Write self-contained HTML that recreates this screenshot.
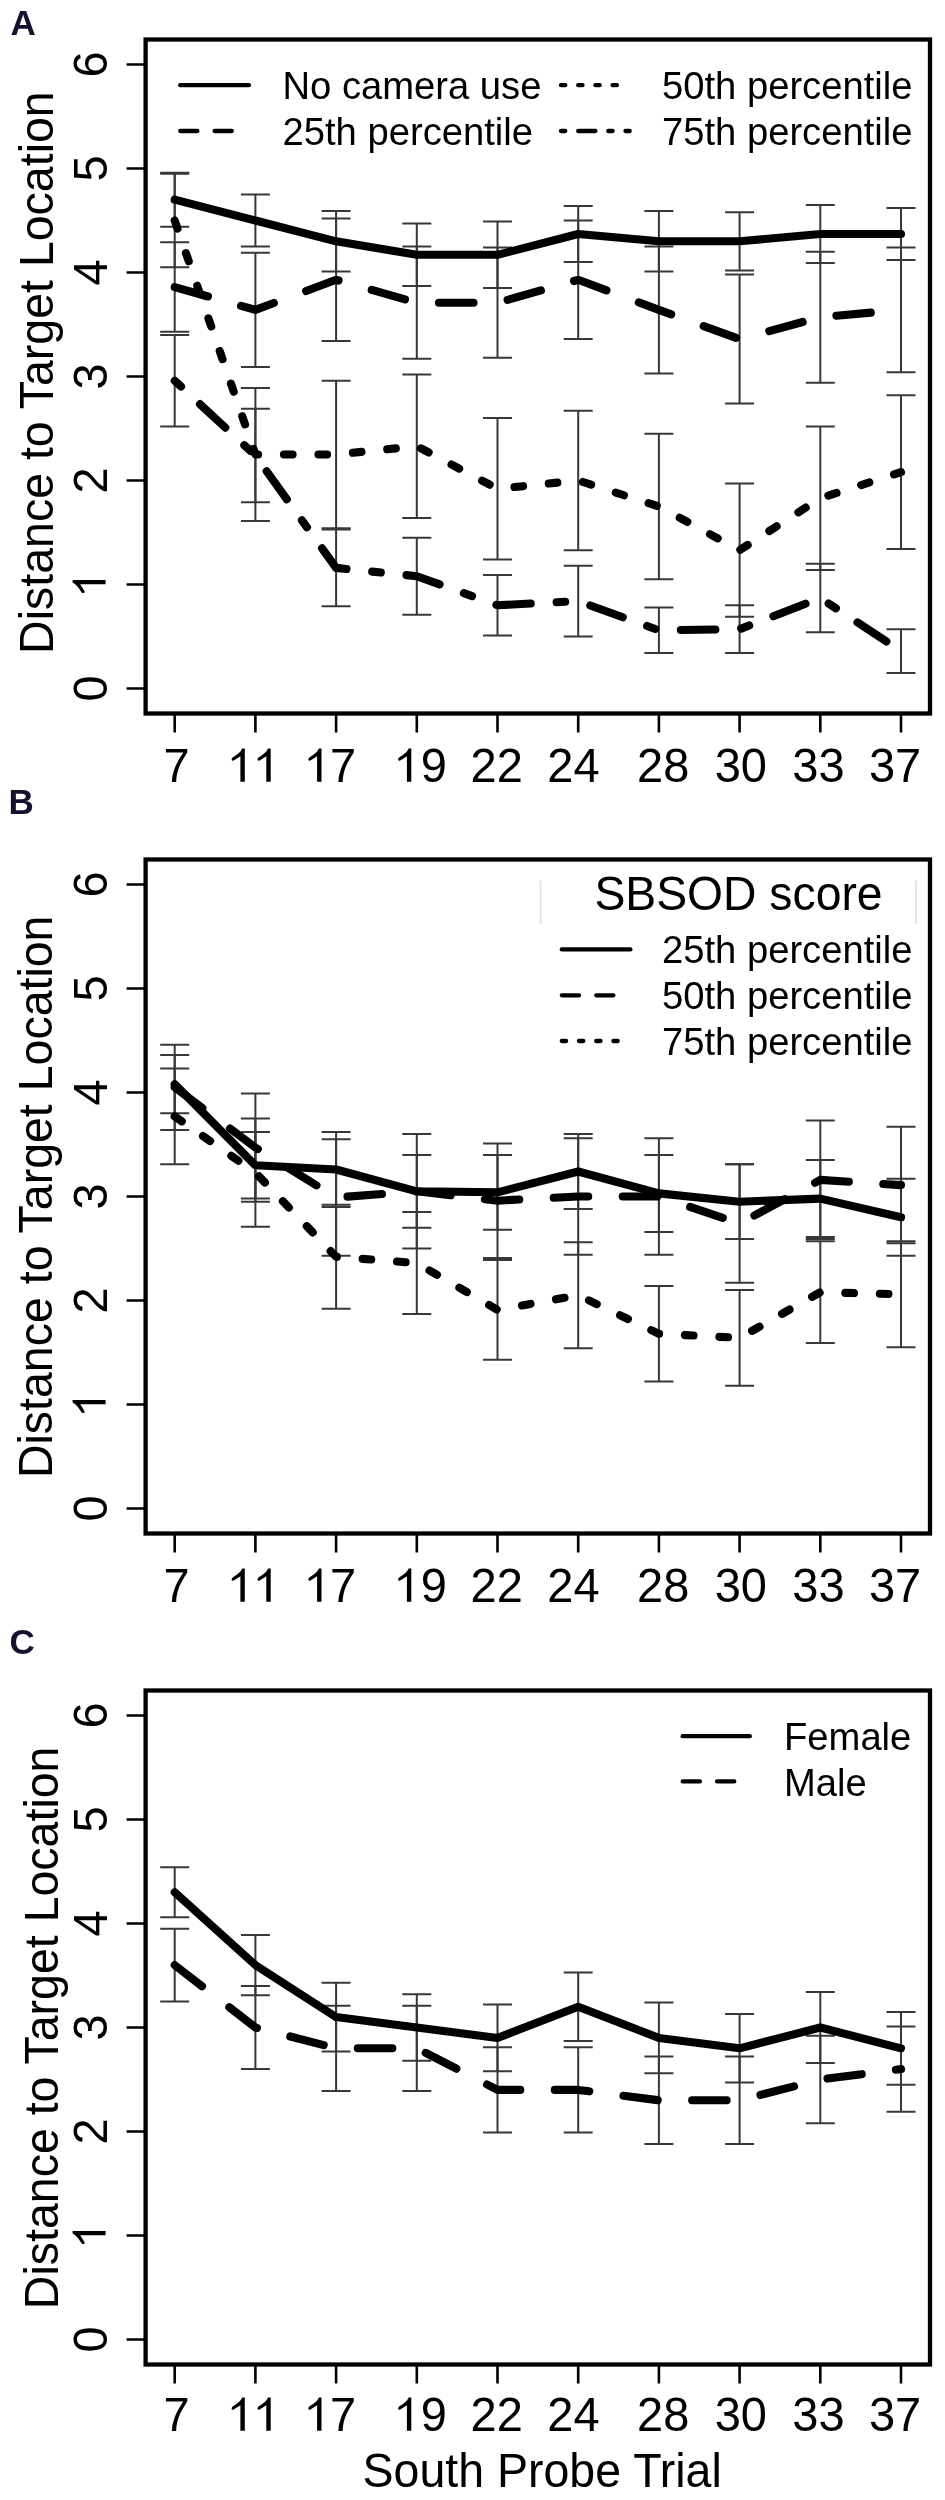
<!DOCTYPE html>
<html><head><meta charset="utf-8"><style>
html,body{margin:0;padding:0;background:#fff;}
svg{display:block;will-change:transform;}
text{font-family:"Liberation Sans",sans-serif;fill:#000;}
.ax{font-size:47px;}
.yt{font-size:46.5px;}
.lt{font-size:38.2px;}
.lb{font-size:35px;font-weight:bold;fill:#16122e;}
.eb{stroke:#383838;stroke-width:2.0;fill:none;}
.ln{stroke:#000;stroke-width:8.1;fill:none;stroke-linecap:round;stroke-linejoin:round;}
.lg{stroke:#000;stroke-width:4.3;fill:none;stroke-linecap:round;}
.box{stroke:#000;stroke-width:4.3;fill:none;}
.tk{stroke:#000;stroke-width:2.6;fill:none;}
</style></head><body>
<svg width="945" height="2500" viewBox="0 0 945 2500">
<text x="10.5" y="34.8" class="lb">A</text>
<text x="8.5" y="814.3" class="lb">B</text>
<text x="9.5" y="1653.8" class="lb">C</text>
<path d="M174.7 172.7V226.7M160.2 172.7H189.2M160.2 226.7H189.2" class="eb"/>
<path d="M255.4 194.5V246.5M240.9 194.5H269.9M240.9 246.5H269.9" class="eb"/>
<path d="M336.1 211.1V271.5M321.6 211.1H350.6M321.6 271.5H350.6" class="eb"/>
<path d="M416.8 223.6V286.0M402.3 223.6H431.3M402.3 286.0H431.3" class="eb"/>
<path d="M497.5 221.5V288.1M483.0 221.5H512.0M483.0 288.1H512.0" class="eb"/>
<path d="M578.2 205.9V262.1M563.7 205.9H592.7M563.7 262.1H592.7" class="eb"/>
<path d="M658.9 211.1V271.5M644.4 211.1H673.4M644.4 271.5H673.4" class="eb"/>
<path d="M739.6 212.2V270.4M725.1 212.2H754.1M725.1 270.4H754.1" class="eb"/>
<path d="M820.3 204.9V263.1M805.8 204.9H834.8M805.8 263.1H834.8" class="eb"/>
<path d="M901.0 208.0V260.0M886.5 208.0H915.5M886.5 260.0H915.5" class="eb"/>
<path d="M174.7 242.3V331.8M160.2 242.3H189.2M160.2 331.8H189.2" class="eb"/>
<path d="M255.4 252.7V367.1M240.9 252.7H269.9M240.9 367.1H269.9" class="eb"/>
<path d="M336.1 218.4V341.1M321.6 218.4H350.6M321.6 341.1H350.6" class="eb"/>
<path d="M416.8 246.5V358.8M402.3 246.5H431.3M402.3 358.8H431.3" class="eb"/>
<path d="M497.5 247.5V357.8M483.0 247.5H512.0M483.0 357.8H512.0" class="eb"/>
<path d="M578.2 220.5V339.1M563.7 220.5H592.7M563.7 339.1H592.7" class="eb"/>
<path d="M658.9 246.5V373.4M644.4 246.5H673.4M644.4 373.4H673.4" class="eb"/>
<path d="M739.6 274.6V403.5M725.1 274.6H754.1M725.1 403.5H754.1" class="eb"/>
<path d="M820.3 251.7V382.7M805.8 251.7H834.8M805.8 382.7H834.8" class="eb"/>
<path d="M901.0 247.5V372.3M886.5 247.5H915.5M886.5 372.3H915.5" class="eb"/>
<path d="M174.7 173.7V267.3M160.2 173.7H189.2M160.2 267.3H189.2" class="eb"/>
<path d="M255.4 387.9V521.1M240.9 387.9H269.9M240.9 521.1H269.9" class="eb"/>
<path d="M336.1 380.7V528.3M321.6 380.7H350.6M321.6 528.3H350.6" class="eb"/>
<path d="M416.8 374.4V517.9M402.3 374.4H431.3M402.3 517.9H431.3" class="eb"/>
<path d="M497.5 418.1V559.5M483.0 418.1H512.0M483.0 559.5H512.0" class="eb"/>
<path d="M578.2 410.8V550.2M563.7 410.8H592.7M563.7 550.2H592.7" class="eb"/>
<path d="M658.9 433.7V579.3M644.4 433.7H673.4M644.4 579.3H673.4" class="eb"/>
<path d="M739.6 483.6V616.7M725.1 483.6H754.1M725.1 616.7H754.1" class="eb"/>
<path d="M820.3 426.4V569.9M805.8 426.4H834.8M805.8 569.9H834.8" class="eb"/>
<path d="M901.0 395.2V549.1M886.5 395.2H915.5M886.5 549.1H915.5" class="eb"/>
<path d="M174.7 334.9V426.4M160.2 334.9H189.2M160.2 426.4H189.2" class="eb"/>
<path d="M255.4 408.7V502.3M240.9 408.7H269.9M240.9 502.3H269.9" class="eb"/>
<path d="M336.1 529.4V606.3M321.6 529.4H350.6M321.6 606.3H350.6" class="eb"/>
<path d="M416.8 537.7V614.7M402.3 537.7H431.3M402.3 614.7H431.3" class="eb"/>
<path d="M497.5 575.1V635.5M483.0 575.1H512.0M483.0 635.5H512.0" class="eb"/>
<path d="M578.2 565.8V636.5M563.7 565.8H592.7M563.7 636.5H592.7" class="eb"/>
<path d="M658.9 607.4V653.1M644.4 607.4H673.4M644.4 653.1H673.4" class="eb"/>
<path d="M739.6 605.3V653.1M725.1 605.3H754.1M725.1 653.1H754.1" class="eb"/>
<path d="M820.3 563.7V632.3M805.8 563.7H834.8M805.8 632.3H834.8" class="eb"/>
<path d="M901.0 629.2V672.9M886.5 629.2H915.5M886.5 672.9H915.5" class="eb"/>
<polyline points="174.7,199.7 255.4,220.5 336.1,241.3 416.8,254.8 497.5,254.8 578.2,234.0 658.9,241.3 739.6,241.3 820.3,234.0 901.0,234.0" class="ln" />
<polyline points="174.7,287.1 255.4,309.9 336.1,279.8 416.8,302.7 497.5,302.7 578.2,279.8 658.9,309.9 739.6,339.1 820.3,317.2 901.0,309.9" class="ln" stroke-dasharray="34.51,34.51"/>
<polyline points="174.7,220.5 255.4,454.5 336.1,454.5 416.8,446.2 497.5,488.8 578.2,480.5 658.9,506.5 739.6,550.2 820.3,498.2 901.0,472.2" class="ln" stroke-dasharray="8.63,25.88"/>
<polyline points="174.7,380.7 255.4,455.5 336.1,567.9 416.8,576.2 497.5,605.3 578.2,601.1 658.9,630.3 739.6,629.2 820.3,598.0 901.0,651.1" class="ln" stroke-dasharray="8.63,25.88,34.51,25.88"/>
<rect x="145.6" y="39.5" width="784.4" height="674.0" class="box"/>
<path d="M174.7 713.5V732.5M255.4 713.5V732.5M336.1 713.5V732.5M416.8 713.5V732.5M497.5 713.5V732.5M578.2 713.5V732.5M658.9 713.5V732.5M739.6 713.5V732.5M820.3 713.5V732.5M901.0 713.5V732.5M145.6 688.5H126.6M145.6 584.5H126.6M145.6 480.5H126.6M145.6 376.5H126.6M145.6 272.5H126.6M145.6 168.5H126.6M145.6 64.5H126.6" class="tk"/>
<text transform="translate(176.50,781.50) scale(1,1.040)" class="ax" text-anchor="middle">7</text>
<path transform="translate(244.80,781.80) scale(1.0000)" d="M0,-33.2 L0,0 L-4.4,0 L-4.4,-25.6 C-6.8,-23.9 -8.9,-22.6 -11.1,-21.3 C-12.6,-20.6 -13.6,-21.6 -13.0,-23.1 C-12.8,-23.8 -12.4,-24.2 -11.9,-24.6 C-8.6,-26.6 -6.0,-28.4 -4.2,-30.6 L-2.6,-33.2 Z"/>
<path transform="translate(270.70,781.80) scale(1.0000)" d="M0,-33.2 L0,0 L-4.4,0 L-4.4,-25.6 C-6.8,-23.9 -8.9,-22.6 -11.1,-21.3 C-12.6,-20.6 -13.6,-21.6 -13.0,-23.1 C-12.8,-23.8 -12.4,-24.2 -11.9,-24.6 C-8.6,-26.6 -6.0,-28.4 -4.2,-30.6 L-2.6,-33.2 Z"/>
<path transform="translate(321.50,781.80) scale(1.0000)" d="M0,-33.2 L0,0 L-4.4,0 L-4.4,-25.6 C-6.8,-23.9 -8.9,-22.6 -11.1,-21.3 C-12.6,-20.6 -13.6,-21.6 -13.0,-23.1 C-12.8,-23.8 -12.4,-24.2 -11.9,-24.6 C-8.6,-26.6 -6.0,-28.4 -4.2,-30.6 L-2.6,-33.2 Z"/>
<text transform="translate(343.00,781.50) scale(1,1.040)" class="ax" text-anchor="middle">7</text>
<path transform="translate(411.30,781.80) scale(1.0000)" d="M0,-33.2 L0,0 L-4.4,0 L-4.4,-25.6 C-6.8,-23.9 -8.9,-22.6 -11.1,-21.3 C-12.6,-20.6 -13.6,-21.6 -13.0,-23.1 C-12.8,-23.8 -12.4,-24.2 -11.9,-24.6 C-8.6,-26.6 -6.0,-28.4 -4.2,-30.6 L-2.6,-33.2 Z"/>
<text transform="translate(433.70,781.50) scale(1,1.040)" class="ax" text-anchor="middle">9</text>
<text transform="translate(496.65,781.50) scale(1,1.040)" class="ax" text-anchor="middle">22</text>
<text transform="translate(573.50,781.50) scale(1,1.040)" class="ax" text-anchor="middle">24</text>
<text transform="translate(663.15,781.50) scale(1,1.040)" class="ax" text-anchor="middle">28</text>
<text transform="translate(740.80,781.50) scale(1,1.040)" class="ax" text-anchor="middle">30</text>
<text transform="translate(818.45,781.50) scale(1,1.040)" class="ax" text-anchor="middle">33</text>
<text transform="translate(895.05,781.50) scale(1,1.040)" class="ax" text-anchor="middle">37</text>
<text transform="translate(106.50,688.50) rotate(-90) scale(1,1.040)" class="ax" text-anchor="middle">0</text>
<path transform="translate(105.6,580.00) rotate(-90) translate(0,0) scale(0.9940)" d="M0,-33.2 L0,0 L-4.4,0 L-4.4,-25.6 C-6.8,-23.9 -8.9,-22.6 -11.1,-21.3 C-12.6,-20.6 -13.6,-21.6 -13.0,-23.1 C-12.8,-23.8 -12.4,-24.2 -11.9,-24.6 C-8.6,-26.6 -6.0,-28.4 -4.2,-30.6 L-2.6,-33.2 Z"/>
<text transform="translate(106.50,480.50) rotate(-90) scale(1,1.040)" class="ax" text-anchor="middle">2</text>
<text transform="translate(106.50,376.50) rotate(-90) scale(1,1.040)" class="ax" text-anchor="middle">3</text>
<text transform="translate(106.50,272.50) rotate(-90) scale(1,1.040)" class="ax" text-anchor="middle">4</text>
<text transform="translate(106.50,168.50) rotate(-90) scale(1,1.040)" class="ax" text-anchor="middle">5</text>
<text transform="translate(106.50,64.50) rotate(-90) scale(1,1.040)" class="ax" text-anchor="middle">6</text>
<text transform="translate(52.60,372.60) rotate(-90) scale(1,1.035)" class="yt" text-anchor="middle">Distance to Target Location</text>
<path d="M180.2 85.2H248.9" class="lg" /><text x="282.5" y="98.5" class="lt">No camera use</text><path d="M180.2 131.0H248.9" class="lg" stroke-dasharray="17.20,17.20"/><text x="282.5" y="144.5" class="lt">25th percentile</text><path d="M561.0 85.2H629.7" class="lg" stroke-dasharray="4.30,12.90"/><text x="912.5" y="98.5" class="lt" text-anchor="end">50th percentile</text><path d="M561.0 131.0H629.7" class="lg" stroke-dasharray="4.30,12.90,17.20,12.90"/><text x="912.5" y="144.5" class="lt" text-anchor="end">75th percentile</text>
<path d="M174.7 1055.1V1113.3M160.2 1055.1H189.2M160.2 1113.3H189.2" class="eb"/>
<path d="M255.4 1132.0V1198.6M240.9 1132.0H269.9M240.9 1198.6H269.9" class="eb"/>
<path d="M336.1 1132.0V1206.9M321.6 1132.0H350.6M321.6 1206.9H350.6" class="eb"/>
<path d="M416.8 1154.9V1227.7M402.3 1154.9H431.3M402.3 1227.7H431.3" class="eb"/>
<path d="M497.5 1154.9V1229.8M483.0 1154.9H512.0M483.0 1229.8H512.0" class="eb"/>
<path d="M578.2 1134.1V1209.0M563.7 1134.1H592.7M563.7 1209.0H592.7" class="eb"/>
<path d="M658.9 1154.9V1231.9M644.4 1154.9H673.4M644.4 1231.9H673.4" class="eb"/>
<path d="M739.6 1164.3V1239.1M725.1 1164.3H754.1M725.1 1239.1H754.1" class="eb"/>
<path d="M820.3 1160.1V1237.1M805.8 1160.1H834.8M805.8 1237.1H834.8" class="eb"/>
<path d="M901.0 1178.8V1255.8M886.5 1178.8H915.5M886.5 1255.8H915.5" class="eb"/>
<path d="M174.7 1044.7V1129.9M160.2 1044.7H189.2M160.2 1129.9H189.2" class="eb"/>
<path d="M255.4 1093.5V1201.7M240.9 1093.5H269.9M240.9 1201.7H269.9" class="eb"/>
<path d="M336.1 1139.3V1255.8M321.6 1139.3H350.6M321.6 1255.8H350.6" class="eb"/>
<path d="M416.8 1134.1V1248.5M402.3 1134.1H431.3M402.3 1248.5H431.3" class="eb"/>
<path d="M497.5 1143.5V1257.9M483.0 1143.5H512.0M483.0 1257.9H512.0" class="eb"/>
<path d="M578.2 1138.3V1254.7M563.7 1138.3H592.7M563.7 1254.7H592.7" class="eb"/>
<path d="M658.9 1138.3V1254.7M644.4 1138.3H673.4M644.4 1254.7H673.4" class="eb"/>
<path d="M739.6 1164.3V1282.8M725.1 1164.3H754.1M725.1 1282.8H754.1" class="eb"/>
<path d="M820.3 1120.6V1239.1M805.8 1120.6H834.8M805.8 1239.1H834.8" class="eb"/>
<path d="M901.0 1126.8V1243.3M886.5 1126.8H915.5M886.5 1243.3H915.5" class="eb"/>
<path d="M174.7 1068.6V1164.3M160.2 1068.6H189.2M160.2 1164.3H189.2" class="eb"/>
<path d="M255.4 1118.5V1226.7M240.9 1118.5H269.9M240.9 1226.7H269.9" class="eb"/>
<path d="M336.1 1204.8V1308.8M321.6 1204.8H350.6M321.6 1308.8H350.6" class="eb"/>
<path d="M416.8 1212.1V1314.0M402.3 1212.1H431.3M402.3 1314.0H431.3" class="eb"/>
<path d="M497.5 1259.9V1359.8M483.0 1259.9H512.0M483.0 1359.8H512.0" class="eb"/>
<path d="M578.2 1242.3V1348.3M563.7 1242.3H592.7M563.7 1348.3H592.7" class="eb"/>
<path d="M658.9 1285.9V1381.6M644.4 1285.9H673.4M644.4 1381.6H673.4" class="eb"/>
<path d="M739.6 1290.1V1385.8M725.1 1290.1H754.1M725.1 1385.8H754.1" class="eb"/>
<path d="M820.3 1241.2V1343.1M805.8 1241.2H834.8M805.8 1343.1H834.8" class="eb"/>
<path d="M901.0 1241.2V1347.3M886.5 1241.2H915.5M886.5 1347.3H915.5" class="eb"/>
<polyline points="174.7,1084.2 255.4,1165.3 336.1,1169.5 416.8,1191.3 497.5,1192.3 578.2,1171.5 658.9,1193.4 739.6,1201.7 820.3,1198.6 901.0,1217.3" class="ln" />
<polyline points="174.7,1087.3 255.4,1147.6 336.1,1197.5 416.8,1191.3 497.5,1200.7 578.2,1196.5 658.9,1196.5 739.6,1223.5 820.3,1179.9 901.0,1185.1" class="ln" stroke-dasharray="34.51,34.51"/>
<polyline points="174.7,1116.4 255.4,1172.6 336.1,1256.8 416.8,1263.1 497.5,1309.9 578.2,1295.3 658.9,1333.8 739.6,1337.9 820.3,1292.2 901.0,1294.3" class="ln" stroke-dasharray="8.63,25.88"/>
<rect x="145.6" y="859.5" width="784.4" height="674.0" class="box"/>
<path d="M174.7 1533.5V1552.5M255.4 1533.5V1552.5M336.1 1533.5V1552.5M416.8 1533.5V1552.5M497.5 1533.5V1552.5M578.2 1533.5V1552.5M658.9 1533.5V1552.5M739.6 1533.5V1552.5M820.3 1533.5V1552.5M901.0 1533.5V1552.5M145.6 1508.5H126.6M145.6 1404.5H126.6M145.6 1300.5H126.6M145.6 1196.5H126.6M145.6 1092.5H126.6M145.6 988.5H126.6M145.6 884.5H126.6" class="tk"/>
<text transform="translate(176.50,1601.50) scale(1,1.040)" class="ax" text-anchor="middle">7</text>
<path transform="translate(244.80,1601.80) scale(1.0000)" d="M0,-33.2 L0,0 L-4.4,0 L-4.4,-25.6 C-6.8,-23.9 -8.9,-22.6 -11.1,-21.3 C-12.6,-20.6 -13.6,-21.6 -13.0,-23.1 C-12.8,-23.8 -12.4,-24.2 -11.9,-24.6 C-8.6,-26.6 -6.0,-28.4 -4.2,-30.6 L-2.6,-33.2 Z"/>
<path transform="translate(270.70,1601.80) scale(1.0000)" d="M0,-33.2 L0,0 L-4.4,0 L-4.4,-25.6 C-6.8,-23.9 -8.9,-22.6 -11.1,-21.3 C-12.6,-20.6 -13.6,-21.6 -13.0,-23.1 C-12.8,-23.8 -12.4,-24.2 -11.9,-24.6 C-8.6,-26.6 -6.0,-28.4 -4.2,-30.6 L-2.6,-33.2 Z"/>
<path transform="translate(321.50,1601.80) scale(1.0000)" d="M0,-33.2 L0,0 L-4.4,0 L-4.4,-25.6 C-6.8,-23.9 -8.9,-22.6 -11.1,-21.3 C-12.6,-20.6 -13.6,-21.6 -13.0,-23.1 C-12.8,-23.8 -12.4,-24.2 -11.9,-24.6 C-8.6,-26.6 -6.0,-28.4 -4.2,-30.6 L-2.6,-33.2 Z"/>
<text transform="translate(343.00,1601.50) scale(1,1.040)" class="ax" text-anchor="middle">7</text>
<path transform="translate(411.30,1601.80) scale(1.0000)" d="M0,-33.2 L0,0 L-4.4,0 L-4.4,-25.6 C-6.8,-23.9 -8.9,-22.6 -11.1,-21.3 C-12.6,-20.6 -13.6,-21.6 -13.0,-23.1 C-12.8,-23.8 -12.4,-24.2 -11.9,-24.6 C-8.6,-26.6 -6.0,-28.4 -4.2,-30.6 L-2.6,-33.2 Z"/>
<text transform="translate(433.70,1601.50) scale(1,1.040)" class="ax" text-anchor="middle">9</text>
<text transform="translate(496.65,1601.50) scale(1,1.040)" class="ax" text-anchor="middle">22</text>
<text transform="translate(573.50,1601.50) scale(1,1.040)" class="ax" text-anchor="middle">24</text>
<text transform="translate(663.15,1601.50) scale(1,1.040)" class="ax" text-anchor="middle">28</text>
<text transform="translate(740.80,1601.50) scale(1,1.040)" class="ax" text-anchor="middle">30</text>
<text transform="translate(818.45,1601.50) scale(1,1.040)" class="ax" text-anchor="middle">33</text>
<text transform="translate(895.05,1601.50) scale(1,1.040)" class="ax" text-anchor="middle">37</text>
<text transform="translate(106.50,1508.50) rotate(-90) scale(1,1.040)" class="ax" text-anchor="middle">0</text>
<path transform="translate(105.6,1400.00) rotate(-90) translate(0,0) scale(0.9940)" d="M0,-33.2 L0,0 L-4.4,0 L-4.4,-25.6 C-6.8,-23.9 -8.9,-22.6 -11.1,-21.3 C-12.6,-20.6 -13.6,-21.6 -13.0,-23.1 C-12.8,-23.8 -12.4,-24.2 -11.9,-24.6 C-8.6,-26.6 -6.0,-28.4 -4.2,-30.6 L-2.6,-33.2 Z"/>
<text transform="translate(106.50,1300.50) rotate(-90) scale(1,1.040)" class="ax" text-anchor="middle">2</text>
<text transform="translate(106.50,1196.50) rotate(-90) scale(1,1.040)" class="ax" text-anchor="middle">3</text>
<text transform="translate(106.50,1092.50) rotate(-90) scale(1,1.040)" class="ax" text-anchor="middle">4</text>
<text transform="translate(106.50,988.50) rotate(-90) scale(1,1.040)" class="ax" text-anchor="middle">5</text>
<text transform="translate(106.50,884.50) rotate(-90) scale(1,1.040)" class="ax" text-anchor="middle">6</text>
<text transform="translate(52.40,1196.80) rotate(-90) scale(1,1.035)" class="yt" text-anchor="middle">Distance to Target Location</text>
<path d="M540.6 880.6V924M916 880.6V924" stroke="#e4e4e4" stroke-width="2"/><text transform="translate(738.5,909.8) scale(0.985,1.04)" class="ax" text-anchor="middle">SBSOD score</text><path d="M561.8 949.4H630.4" class="lg" /><text x="912.5" y="963" class="lt" text-anchor="end">25th percentile</text><path d="M561.8 995.3H630.4" class="lg" stroke-dasharray="17.20,17.20"/><text x="912.5" y="1009.3" class="lt" text-anchor="end">50th percentile</text><path d="M561.8 1041.0H630.4" class="lg" stroke-dasharray="4.30,12.90"/><text x="912.5" y="1055" class="lt" text-anchor="end">75th percentile</text>
<path d="M174.7 1867.3V1917.3M160.2 1867.3H189.2M160.2 1917.3H189.2" class="eb"/>
<path d="M255.4 1934.9V1995.3M240.9 1934.9H269.9M240.9 1995.3H269.9" class="eb"/>
<path d="M336.1 1982.8V2051.4M321.6 1982.8H350.6M321.6 2051.4H350.6" class="eb"/>
<path d="M416.8 1994.2V2060.8M402.3 1994.2H431.3M402.3 2060.8H431.3" class="eb"/>
<path d="M497.5 2004.6V2071.2M483.0 2004.6H512.0M483.0 2071.2H512.0" class="eb"/>
<path d="M578.2 1972.4V2041.0M563.7 1972.4H592.7M563.7 2041.0H592.7" class="eb"/>
<path d="M658.9 2002.5V2073.3M644.4 2002.5H673.4M644.4 2073.3H673.4" class="eb"/>
<path d="M739.6 2014.0V2082.6M725.1 2014.0H754.1M725.1 2082.6H754.1" class="eb"/>
<path d="M820.3 1992.1V2062.9M805.8 1992.1H834.8M805.8 2062.9H834.8" class="eb"/>
<path d="M901.0 2011.9V2084.7M886.5 2011.9H915.5M886.5 2084.7H915.5" class="eb"/>
<path d="M174.7 1928.7V2001.5M160.2 1928.7H189.2M160.2 2001.5H189.2" class="eb"/>
<path d="M255.4 1985.9V2069.1M240.9 1985.9H269.9M240.9 2069.1H269.9" class="eb"/>
<path d="M336.1 2005.7V2090.9M321.6 2005.7H350.6M321.6 2090.9H350.6" class="eb"/>
<path d="M416.8 2005.7V2090.9M402.3 2005.7H431.3M402.3 2090.9H431.3" class="eb"/>
<path d="M497.5 2047.3V2132.5M483.0 2047.3H512.0M483.0 2132.5H512.0" class="eb"/>
<path d="M578.2 2047.3V2132.5M563.7 2047.3H592.7M563.7 2132.5H592.7" class="eb"/>
<path d="M658.9 2056.6V2144.0M644.4 2056.6H673.4M644.4 2144.0H673.4" class="eb"/>
<path d="M739.6 2056.6V2144.0M725.1 2056.6H754.1M725.1 2144.0H754.1" class="eb"/>
<path d="M820.3 2035.8V2123.2M805.8 2035.8H834.8M805.8 2123.2H834.8" class="eb"/>
<path d="M901.0 2026.5V2111.7M886.5 2026.5H915.5M886.5 2111.7H915.5" class="eb"/>
<polyline points="174.7,1892.3 255.4,1965.1 336.1,2017.1 416.8,2027.5 497.5,2037.9 578.2,2006.7 658.9,2037.9 739.6,2048.3 820.3,2027.5 901.0,2048.3" class="ln" />
<polyline points="174.7,1965.1 255.4,2027.5 336.1,2048.3 416.8,2048.3 497.5,2089.9 578.2,2089.9 658.9,2100.3 739.6,2100.3 820.3,2079.5 901.0,2069.1" class="ln" stroke-dasharray="34.51,34.51"/>
<rect x="145.6" y="1690.5" width="784.4" height="674.0" class="box"/>
<path d="M174.7 2364.5V2383.5M255.4 2364.5V2383.5M336.1 2364.5V2383.5M416.8 2364.5V2383.5M497.5 2364.5V2383.5M578.2 2364.5V2383.5M658.9 2364.5V2383.5M739.6 2364.5V2383.5M820.3 2364.5V2383.5M901.0 2364.5V2383.5M145.6 2339.5H126.6M145.6 2235.5H126.6M145.6 2131.5H126.6M145.6 2027.5H126.6M145.6 1923.5H126.6M145.6 1819.5H126.6M145.6 1715.5H126.6" class="tk"/>
<text transform="translate(176.50,2430.50) scale(1,1.040)" class="ax" text-anchor="middle">7</text>
<path transform="translate(244.80,2430.80) scale(1.0000)" d="M0,-33.2 L0,0 L-4.4,0 L-4.4,-25.6 C-6.8,-23.9 -8.9,-22.6 -11.1,-21.3 C-12.6,-20.6 -13.6,-21.6 -13.0,-23.1 C-12.8,-23.8 -12.4,-24.2 -11.9,-24.6 C-8.6,-26.6 -6.0,-28.4 -4.2,-30.6 L-2.6,-33.2 Z"/>
<path transform="translate(270.70,2430.80) scale(1.0000)" d="M0,-33.2 L0,0 L-4.4,0 L-4.4,-25.6 C-6.8,-23.9 -8.9,-22.6 -11.1,-21.3 C-12.6,-20.6 -13.6,-21.6 -13.0,-23.1 C-12.8,-23.8 -12.4,-24.2 -11.9,-24.6 C-8.6,-26.6 -6.0,-28.4 -4.2,-30.6 L-2.6,-33.2 Z"/>
<path transform="translate(321.50,2430.80) scale(1.0000)" d="M0,-33.2 L0,0 L-4.4,0 L-4.4,-25.6 C-6.8,-23.9 -8.9,-22.6 -11.1,-21.3 C-12.6,-20.6 -13.6,-21.6 -13.0,-23.1 C-12.8,-23.8 -12.4,-24.2 -11.9,-24.6 C-8.6,-26.6 -6.0,-28.4 -4.2,-30.6 L-2.6,-33.2 Z"/>
<text transform="translate(343.00,2430.50) scale(1,1.040)" class="ax" text-anchor="middle">7</text>
<path transform="translate(411.30,2430.80) scale(1.0000)" d="M0,-33.2 L0,0 L-4.4,0 L-4.4,-25.6 C-6.8,-23.9 -8.9,-22.6 -11.1,-21.3 C-12.6,-20.6 -13.6,-21.6 -13.0,-23.1 C-12.8,-23.8 -12.4,-24.2 -11.9,-24.6 C-8.6,-26.6 -6.0,-28.4 -4.2,-30.6 L-2.6,-33.2 Z"/>
<text transform="translate(433.70,2430.50) scale(1,1.040)" class="ax" text-anchor="middle">9</text>
<text transform="translate(496.65,2430.50) scale(1,1.040)" class="ax" text-anchor="middle">22</text>
<text transform="translate(573.50,2430.50) scale(1,1.040)" class="ax" text-anchor="middle">24</text>
<text transform="translate(663.15,2430.50) scale(1,1.040)" class="ax" text-anchor="middle">28</text>
<text transform="translate(740.80,2430.50) scale(1,1.040)" class="ax" text-anchor="middle">30</text>
<text transform="translate(818.45,2430.50) scale(1,1.040)" class="ax" text-anchor="middle">33</text>
<text transform="translate(895.05,2430.50) scale(1,1.040)" class="ax" text-anchor="middle">37</text>
<text transform="translate(106.50,2339.50) rotate(-90) scale(1,1.040)" class="ax" text-anchor="middle">0</text>
<path transform="translate(105.6,2231.00) rotate(-90) translate(0,0) scale(0.9940)" d="M0,-33.2 L0,0 L-4.4,0 L-4.4,-25.6 C-6.8,-23.9 -8.9,-22.6 -11.1,-21.3 C-12.6,-20.6 -13.6,-21.6 -13.0,-23.1 C-12.8,-23.8 -12.4,-24.2 -11.9,-24.6 C-8.6,-26.6 -6.0,-28.4 -4.2,-30.6 L-2.6,-33.2 Z"/>
<text transform="translate(106.50,2131.50) rotate(-90) scale(1,1.040)" class="ax" text-anchor="middle">2</text>
<text transform="translate(106.50,2027.50) rotate(-90) scale(1,1.040)" class="ax" text-anchor="middle">3</text>
<text transform="translate(106.50,1923.50) rotate(-90) scale(1,1.040)" class="ax" text-anchor="middle">4</text>
<text transform="translate(106.50,1819.50) rotate(-90) scale(1,1.040)" class="ax" text-anchor="middle">5</text>
<text transform="translate(106.50,1715.50) rotate(-90) scale(1,1.040)" class="ax" text-anchor="middle">6</text>
<text transform="translate(57.90,2027.85) rotate(-90) scale(1,1.035)" class="yt" text-anchor="middle">Distance to Target Location</text>
<path d="M682.7 1736.2H749.8" class="lg" /><text x="784" y="1749.5" class="lt">Female</text><path d="M682.7 1781.4H749.8" class="lg" stroke-dasharray="17.20,17.20"/><text x="784" y="1796" class="lt">Male</text>
<text transform="translate(542.2,2487) scale(1,1.02)" class="yt" text-anchor="middle">South Probe Trial</text>
</svg></body></html>
